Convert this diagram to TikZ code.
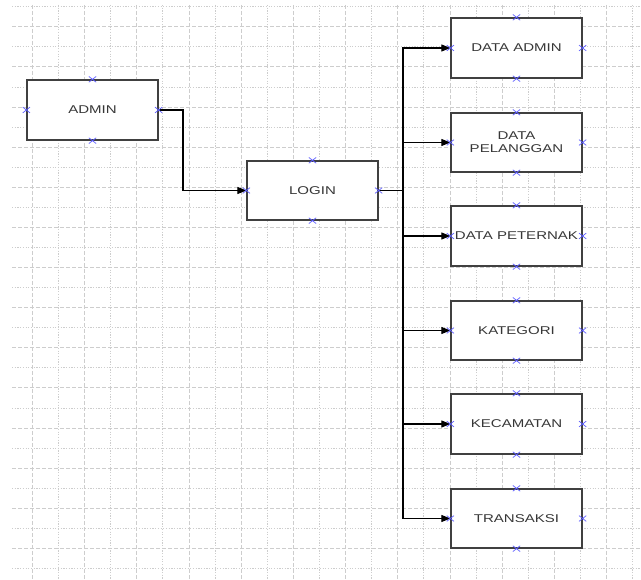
\documentclass[tikz,border=0pt]{standalone}
\usepackage{fontspec}
\newfontfamily\boxfont[FakeStretch=1.33]{Liberation Sans}
\usetikzlibrary{arrows.meta,shapes.misc}
\definecolor{gridc}{RGB}{205,205,205}
\definecolor{markc}{RGB}{90,90,255}
\definecolor{boxc}{RGB}{64,64,64}
\definecolor{textc}{RGB}{55,55,55}
\begin{document}
\begin{tikzpicture}[x=1pt,y=-1pt,
  gdash/.style={draw=gridc,line width=0.8pt,dash pattern=on 4pt off 2pt},
  gdot/.style={draw=gridc,line width=0.7pt,dash pattern=on 1.2pt off 1.5pt},
  blk/.style={draw=boxc,line width=1.3pt,fill=white,minimum width=131pt,minimum height=60pt,inner sep=0pt,
    font=\boxfont\fontsize{11.3}{14}\selectfont,text=textc,align=center},
  xmark/.style={cross out,draw=markc,line width=0.7pt,minimum width=6.5pt,minimum height=5pt,inner sep=0pt},
  conn/.style={draw=black,line width=1.1pt},
  arr/.style={conn,-{Triangle[length=9pt,width=7pt]}}]
\useasboundingbox (0,0) rectangle (641,580);
\fill[white] (0,0) rectangle (641,580);
% grid
\foreach \i in {0,...,23}{
  \pgfmathsetmacro\gx{32.3+26.1*\i}
  \pgfmathtruncatemacro\gpar{mod(\i,2)}
  \ifnum\gpar=0 \draw[gdash] (\gx,5) -- (\gx,580); \else \draw[gdot] (\gx,5) -- (\gx,580); \fi
}
\foreach \j in {0,...,28}{
  \pgfmathsetmacro\gy{6.7+20.06*\j}
  \pgfmathtruncatemacro\gpar{mod(\j,2)}
  \ifnum\gpar=0 \draw[gdot] (12,\gy) -- (641,\gy); \else \draw[gdash] (12,\gy) -- (641,\gy); \fi
}
% boxes
\node[blk] (admin) at (92.5,110) {ADMIN};
\node[blk,minimum height=59pt] (login) at (312.5,190.5) {LOGIN};
\node[blk] (dadmin) at (516.5,48) {DATA ADMIN};
\node[blk,minimum height=59pt] (dpel) at (516.5,142.5) {DATA\\[-1pt]PELANGGAN};
\node[blk] (dpet) at (516.5,236) {DATA PETERNAK};
\node[blk,minimum height=59pt] (kat) at (516.5,330.5) {KATEGORI};
\node[blk] (kec) at (516.5,424) {KECAMATAN};
\node[blk,minimum height=59pt] (trx) at (516.5,518.5) {TRANSAKSI};
% connectors
\coordinate (bend) at (183,110);
\draw[arr] (admin.east) -- (bend) |- (login.west);
\coordinate (bus) at (403,190.5);
\foreach \t in {dadmin,dpel,dpet,kat,kec,trx}{
  \draw[arr] (login.east) -- (bus) |- (\t.west);
}
% markers
\foreach \n in {admin,login,dadmin,dpel,dpet,kat,kec,trx}{
  \foreach \a in {north,south,east,west}{
    \node[xmark] (\n-\a) at (\n.\a) {};
  }
}
\end{tikzpicture}
\end{document}
